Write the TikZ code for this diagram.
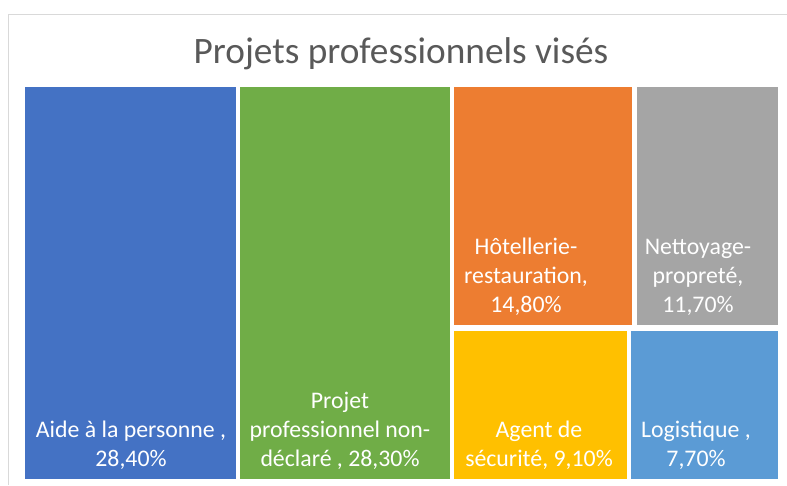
\documentclass[tikz,border=0pt]{standalone}
\usepackage{fontspec}
\setmainfont{Carlito}
\usepackage{xcolor}
\definecolor{aideblue}{HTML}{4472C4}
\definecolor{projgreen}{HTML}{70AD47}
\definecolor{hotorange}{HTML}{ED7D31}
\definecolor{nettgray}{HTML}{A5A5A5}
\definecolor{agentyellow}{HTML}{FFC000}
\definecolor{logiblue}{HTML}{5B9BD5}
\definecolor{titlegray}{HTML}{595959}
\definecolor{framegray}{HTML}{D9D9D9}
\tikzset{
	label/.style={white, align=center, anchor=base, inner sep=0pt, font=\fontsize{23.8}{29}\selectfont}
}

\begin{document}
\begin{tikzpicture}[x=1pt, y=-1pt]
			\useasboundingbox (0,0) rectangle (787,485);
			\draw[framegray, line width=1pt] (8,485) -- (8,14) -- (787,14);

			\node[titlegray, anchor=base, inner sep=0pt, font=\fontsize{37.3}{44}\selectfont] (title) at (401,63) {Projets professionnels visés};

			\fill[aideblue] (25,87) rectangle (236,479);
			\fill[projgreen] (240,87) rectangle (450,479);
			\fill[hotorange] (454,87) rectangle (632,325);
			\fill[nettgray] (637,87) rectangle (778,325);
			\fill[agentyellow] (454,331) rectangle (627,479);
			\fill[logiblue] (631,331) rectangle (778,479);

			% base = last line
			\node[label] (aide) at (131,466) {Aide à la personne ,\\28,40\%};
			\node[label] (proj) at (340,466) {Projet\\professionnel non-\\déclaré , 28,30\%};
			\node[label] (hotel) at (526,312) {Hôtellerie-\\restauration,\\14,80\%};
			\node[label] (nett) at (698,312) {Nettoyage-\\propreté,\\11,70\%};
			\node[label] (agent) at (539,466) {Agent de\\sécurité, 9,10\%};
			\node[label] (logi) at (696,466) {Logistique ,\\7,70\%};
		\end{tikzpicture}
\end{document}
